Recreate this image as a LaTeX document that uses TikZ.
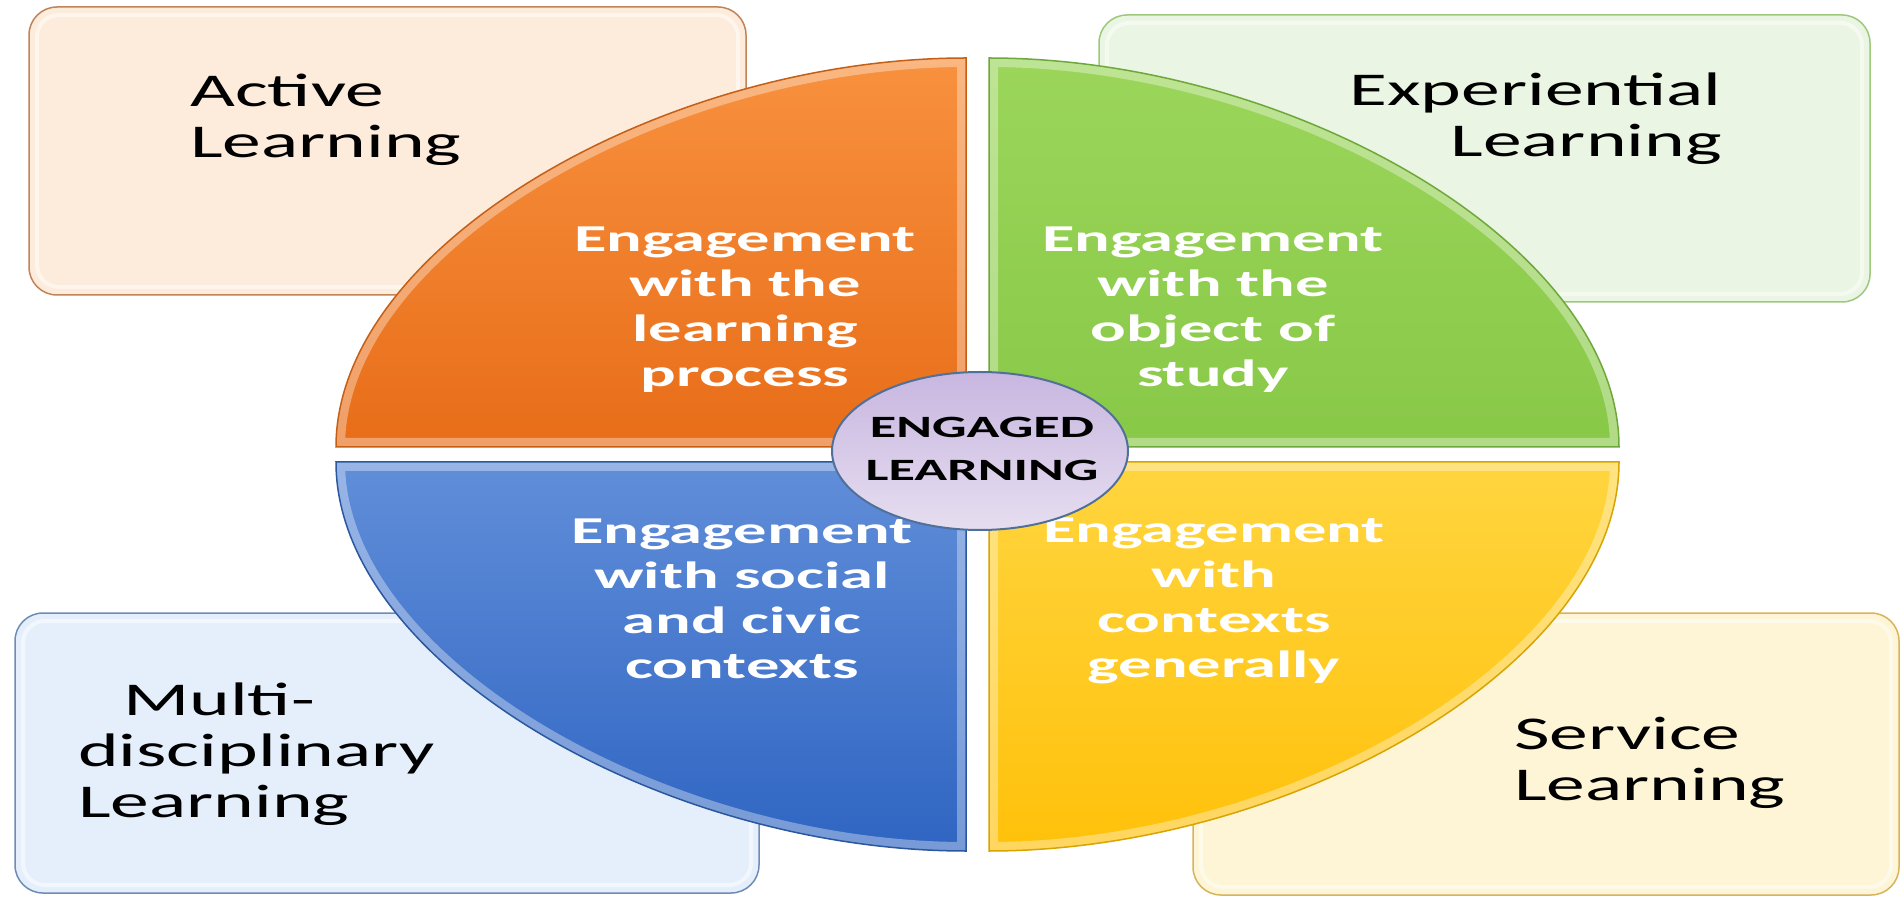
\documentclass[tikz,border=0pt]{standalone}
\usepackage{fontspec}
\setmainfont{Carlito}[FakeStretch=1.65]
\newfontfamily\widebold{Carlito}[FakeStretch=1.75]

\definecolor{orTop}{HTML}{F8913F}
\definecolor{orBot}{HTML}{E86D18}
\definecolor{orLine}{HTML}{C65F16}
\definecolor{grTop}{HTML}{9BD65B}
\definecolor{grBot}{HTML}{88C847}
\definecolor{grLine}{HTML}{6FA83A}
\definecolor{blTop}{HTML}{618ED9}
\definecolor{blBot}{HTML}{2F65C2}
\definecolor{blLine}{HTML}{2A579F}
\definecolor{yeTop}{HTML}{FFD53F}
\definecolor{yeBot}{HTML}{FFC10A}
\definecolor{yeLine}{HTML}{D9A300}
\definecolor{coreTop}{HTML}{C8B6E0}
\definecolor{coreBot}{HTML}{E6DEF0}
\definecolor{coreLine}{HTML}{50709A}
\definecolor{actFill}{HTML}{FDEBDC}
\definecolor{actLine}{HTML}{BF8458}
\definecolor{expFill}{HTML}{EBF5E3}
\definecolor{expLine}{HTML}{9CC97C}
\definecolor{mulFill}{HTML}{E4EFFB}
\definecolor{mulLine}{HTML}{6E8DB5}
\definecolor{serFill}{HTML}{FDF5D6}
\definecolor{serLine}{HTML}{D6B45A}

\newcommand\quadrant{(\cx,\cy) -- ({\cx+(\sx)*630},\cy)
  .. controls ({\cx+(\sx)*630},{\cy+(\sy)*202}) and ({\cx+(\sx)*302},{\cy+(\sy)*389}) .. (\cx,{\cy+(\sy)*389}) -- cycle}

\tikzset{
  box/.style={rounded corners=28pt, line width=1.5pt},
  boxtext/.style={inner sep=0pt, align=left, text=black, font=\fontsize{47}{51}\selectfont},
  quadtext/.style={inner sep=0pt, align=center, text=white, font=\widebold\bfseries\fontsize{38}{45}\selectfont}
}

\begin{document}
\begin{tikzpicture}[x=1pt,y=1pt]
  \useasboundingbox (0,0) rectangle (1901,898);
  \fill[white] (0,0) rectangle (1901,898);
  \foreach \xa/\ya/\xb/\yb/\fc/\dc in {29/603/746/891/actFill/actLine,
      1099/596/1870/883/expFill/expLine, 15/5/759/285/mulFill/mulLine,
      1193/3/1899/285/serFill/serLine}{
    \draw[box, fill=\fc, draw=\dc] (\xa,\ya) rectangle (\xb,\yb);
    \draw[rounded corners=22pt, white, line width=4pt, opacity=.5] (\xa+8,\ya+8) rectangle (\xb-8,\yb-8);
  }
  \node[boxtext, anchor=base west] (active) at (190,740) {Active\\Learning};
  \node[boxtext, anchor=base east, align=right] (experiential) at (1722,741) {Experiential\\Learning};
  \node[boxtext, anchor=base west] (multi) at (78,81) {\hspace*{45pt}Multi-\\disciplinary\\Learning};
  \node[boxtext, anchor=base west] (service) at (1514,98) {Service\\Learning};

  \foreach \cx/\cy/\sx/\sy/\ca/\cb/\cl in {966/451/-1/1/orTop/orBot/orLine,
      989/451/1/1/grTop/grBot/grLine, 966/436/-1/-1/blTop/blBot/blLine,
      989/436/1/-1/yeTop/yeBot/yeLine}{
    \path[top color=\ca, bottom color=\cb] \quadrant;
    \begin{scope}
      \clip \quadrant;
      \draw[white, opacity=.35, line width=18pt] \quadrant;
    \end{scope}
    \draw[\cl, line width=1.5pt] \quadrant;
  }
  \node[quadtext, anchor=base] (process) at (745,511) {Engagement\\with the\\learning\\process};
  \node[quadtext, anchor=base] (object) at (1213,511) {Engagement\\with the\\object of\\study};
  \node[quadtext, anchor=base] (civic) at (742,220) {Engagement\\with social\\and civic\\contexts};
  \node[quadtext, anchor=base] (general) at (1214,221) {Engagement\\with\\contexts\\generally};

  \draw[coreLine, line width=2pt, top color=coreTop, bottom color=coreBot] (980,447) ellipse[x radius=148, y radius=79];
  \node[inner sep=0pt, align=center, font=\widebold\bfseries\fontsize{31}{43}\selectfont] (core) at (982,449) {ENGAGED\\LEARNING};
\end{tikzpicture}
\end{document}
